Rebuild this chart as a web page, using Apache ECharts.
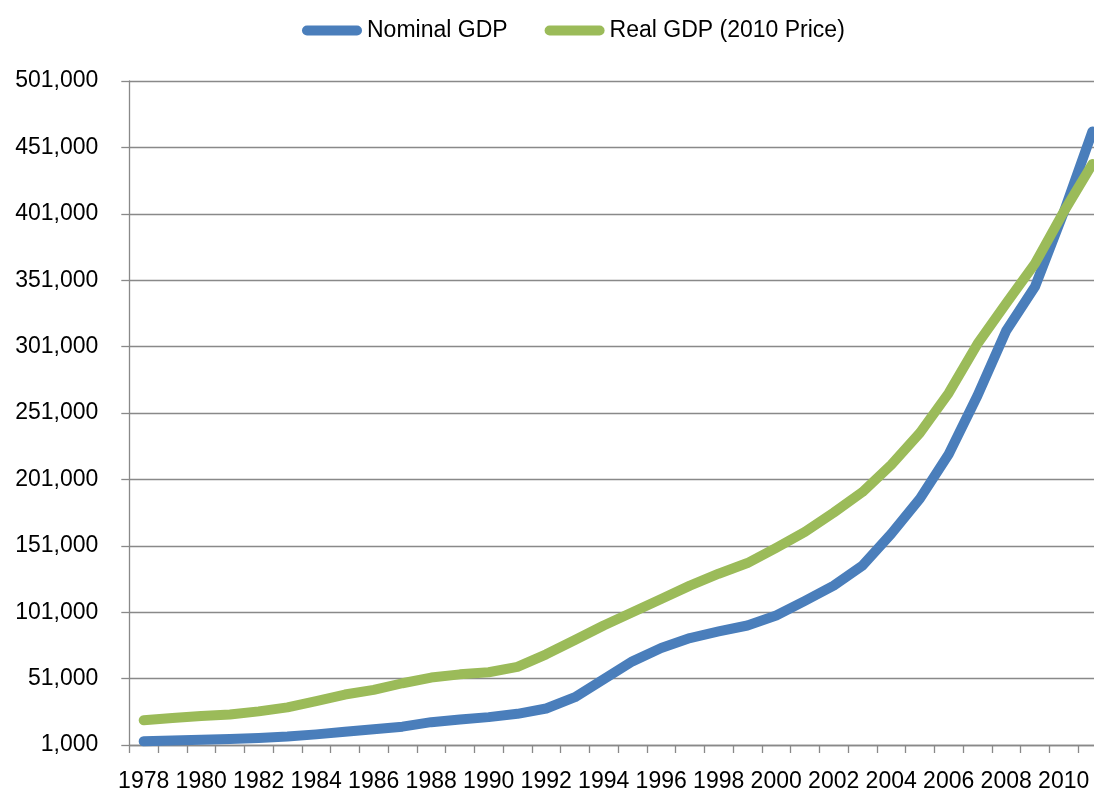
<!DOCTYPE html>
<html>
<head>
<meta charset="utf-8">
<script src="https://cdn.jsdelivr.net/npm/echarts@6/dist/echarts.min.js"></script>
<style>
html,body{margin:0;padding:0;background:#fff;overflow:hidden;width:1094px;height:793px;}
#chart{width:1110px;height:793px;}
</style>
</head>
<body>
<div id="chart"></div>
<script>
const years = ['1978','1979','1980','1981','1982','1983','1984','1985','1986','1987','1988','1989','1990','1991','1992','1993','1994','1995','1996','1997','1998','1999','2000','2001','2002','2003','2004','2005','2006','2007','2008','2009','2010','2011'];
const nominalGDP = [3800,4400,5000,5600,6300,7400,9000,11000,12800,14800,18200,20200,22000,24500,28500,37000,50500,64000,74000,81500,86500,91000,98500,109500,121000,136000,160000,186500,220000,264000,313000,346000,402000,463000];
const realGDP = [19700,21300,22900,23900,26300,29300,34000,39000,42500,47500,51800,54200,55800,59800,69300,80000,91000,101000,111000,121000,130000,138000,149500,161500,176000,191500,212000,236000,266000,303000,333500,363500,402500,438500];
const seriesNames = ['Nominal GDP','Real GDP (2010 Price)'];
const yMin = 1000, yMax = 501000, yStep = 50000;

const FONT = 'Liberation Sans';
const GRAY = '#898989';
const chart = echarts.init(document.getElementById('chart'), null, {renderer:'canvas'});
const icon = 'path://M5,0H55A5,5,0,0,1,55,10H5A5,5,0,0,1,5,0Z';
chart.setOption({
  animation:false,
  textStyle:{fontFamily:FONT},
  legend:{
    left:302, top:19, padding:0, itemWidth:60, itemHeight:10, itemGap:37,
    textStyle:{fontFamily:FONT,fontSize:23,color:'#000'},
    data:[{name:seriesNames[0],icon:icon},{name:seriesNames[1],icon:icon}]
  },
  grid:{left:129.3, top:81, width:977.5, height:665.7, containLabel:false},
  xAxis:{
    type:'category', data:years, boundaryGap:true,
    axisLine:{show:true,lineStyle:{color:GRAY,width:1.3}},
    axisTick:{show:true,interval:0,length:8,lineStyle:{color:GRAY,width:1.3}},
    axisLabel:{interval:1,margin:25,fontFamily:FONT,fontSize:23,color:'#000'},
    splitLine:{show:false}
  },
  yAxis:{
    type:'value', min:yMin, max:yMax, interval:yStep,
    axisLine:{show:true,lineStyle:{color:GRAY,width:1.3}},
    axisTick:{show:true,length:8,lineStyle:{color:GRAY,width:1.3}},
    axisLabel:{margin:31,fontFamily:FONT,fontSize:23,color:'#000',
      formatter:v=>v.toLocaleString('en-US')},
    splitLine:{show:true,lineStyle:{color:GRAY,width:1.3}}
  },
  series:[
    {name:seriesNames[0],type:'line',data:nominalGDP,symbol:'none',color:'#4A7EBB',
     lineStyle:{width:10,cap:'round',join:'round',color:'#4A7EBB'}},
    {name:seriesNames[1],type:'line',data:realGDP,symbol:'none',color:'#9BBB59',
     lineStyle:{width:10,cap:'round',join:'round',color:'#9BBB59'}}
  ]
});
</script>
</body>
</html>
